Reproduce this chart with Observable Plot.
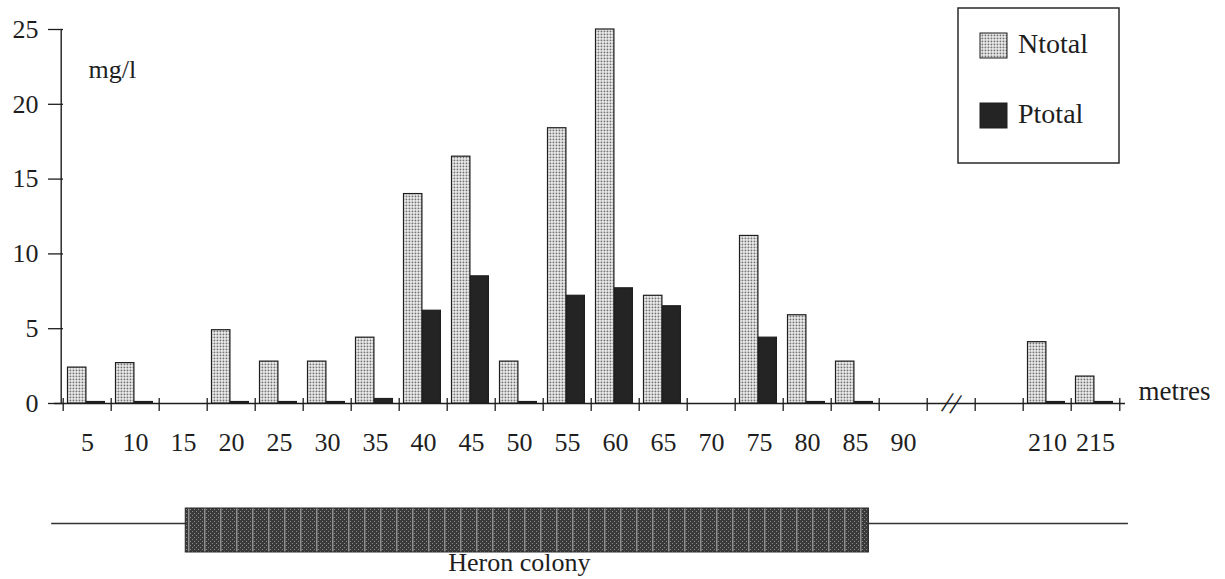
<!DOCTYPE html>
<html><head><meta charset="utf-8">
<script src="https://cdn.jsdelivr.net/npm/d3@7"></script>
<script src="https://cdn.jsdelivr.net/npm/@observablehq/plot@0.6"></script>
<style>
body{margin:0;background:#fff;font-family:"Liberation Serif",serif;}
#wrap{position:relative;width:1225px;height:579px;overflow:hidden;background:#fff;}
#wrap > svg{display:block;}
#legend{position:absolute;left:957px;top:7px;}
</style></head><body>
<div id="wrap">
<svg width="0" height="0" style="position:absolute">
  <defs>
    <pattern id="nDots" width="3" height="3" patternUnits="userSpaceOnUse">
      <rect width="3" height="3" fill="#ffffff"/>
      <rect x="0.5" y="0.5" width="1.9" height="1.9" fill="#727272"/>
    </pattern>
    <pattern id="heron" width="16" height="4" patternUnits="userSpaceOnUse">
      <rect width="16" height="4" fill="#3a3a3a"/>
      <rect x="0" y="0" width="1" height="1" fill="#8a8a8a"/>
      <rect x="2" y="2" width="1" height="1" fill="#8a8a8a"/>
      <rect x="4" y="0" width="1" height="1" fill="#8a8a8a"/>
      <rect x="6" y="2" width="1" height="1" fill="#8a8a8a"/>
      <rect x="8" y="0" width="1" height="1" fill="#8a8a8a"/>
      <rect x="10" y="2" width="1" height="1" fill="#8a8a8a"/>
      <rect x="12" y="0" width="1.5" height="4" fill="#8f8f8f"/>
      <rect x="14" y="2" width="1" height="1" fill="#8a8a8a"/>
    </pattern>
  </defs>
</svg>
</div>
<script>
// Sampling positions along the transect (metres); two blank slots stand for the axis break
const slots = ["5","10","15","20","25","30","35","40","45","50","55","60","65","70","75","80","85","90","break","gap","210","215"];
const slotLabels = ["5","10","15","20","25","30","35","40","45","50","55","60","65","70","75","80","85","90","","","210","215"];
// Concentrations, mg/l
const Ntotal = [2.4, 2.7, 0, 4.9, 2.8, 2.8, 4.4, 14.0, 16.5, 2.8, 18.4, 25.0, 7.2, 0, 11.2, 5.9, 2.8, 0, null, null, 4.1, 1.8];
const Ptotal = [0.1, 0.1, 0, 0.1, 0.1, 0.1, 0.3, 6.2, 8.5, 0.1, 7.2, 7.7, 6.5, 0, 4.4, 0.1, 0.1, 0, null, null, 0.1, 0.1];
const yTicks = [0, 5, 10, 15, 20, 25];
const seriesNames = ["Ntotal", "Ptotal"];
// Heron colony extent and transect extent, in metres-equivalent along the drawn axis (22 slots x 5 m)
const heronColony = [13.3, 83.6];
const transect = [-0.5, 110.3];
const heronLabel = "Heron colony";

const W = 1225, mL = 56, mR = 100, mT = 29, mB = 60, H = 463;
const bw = (W - mL - mR) / slots.length;
const ink = "#1e1e1e";
const font = "Liberation Serif";
const labelOf = new Map(slots.map((s, i) => [s, slotLabels[i]]));

const nData = slots.map((s, i) => ({slot: s, v: Ntotal[i]})).filter(d => d.v > 0);
const pData = slots.map((s, i) => ({slot: s, v: Ptotal[i]})).filter(d => d.v > 0);

const main = Plot.plot({
  width: W, height: H,
  marginLeft: mL, marginRight: mR, marginTop: mT, marginBottom: mB,
  style: {fontFamily: font, fontSize: "26px", color: ink, background: "transparent", overflow: "visible"},
  x: {type: "band", domain: slots, padding: 0, label: null},
  y: {domain: [0, 25], label: null},
  marks: [
    // x axis line
    Plot.ruleY([0], {stroke: ink, strokeWidth: 1.4, insetLeft: -2}),
    // y axis line
    Plot.ruleX([slots[0]], {y1: 0, y2: 25, dx: -bw / 2 - 2, stroke: ink, strokeWidth: 1.4}),
    // y ticks crossing the axis
    Plot.axisY(yTicks, {tickSize: 15, dx: 7, tickFormat: () => "", stroke: ink, strokeWidth: 1.3, label: null}),
    Plot.axisY(yTicks, {tickSize: 0, tickPadding: 18, fontSize: 26, fill: ink, label: null}),
    // x boundary ticks
    Plot.axisX(slots, {tickSize: 13, dy: -5, dx: -bw / 2, tickFormat: () => "", stroke: ink, strokeWidth: 1.3, label: null}),
    Plot.axisX([slots[slots.length - 1]], {tickSize: 13, dy: -5, dx: bw / 2, tickFormat: () => "", stroke: ink, strokeWidth: 1.3, label: null}),
    Plot.axisX(slots, {tickSize: 0, tickPadding: 29, tickFormat: d => labelOf.get(d), fontSize: 26, fill: ink, label: null}),
    // bars
    Plot.barY(nData, {x: "slot", y: "v", fill: "url(#nDots)", stroke: ink, strokeWidth: 1.2, insetLeft: 4.5, insetRight: bw - 23.5}),
    Plot.barY(pData, {x: "slot", y: "v", fill: "#242424", stroke: ink, strokeWidth: 1.2, insetLeft: 23.5, insetRight: bw - 42}),
    // axis break
    Plot.text(["break"], {x: d => d, y: 0, text: () => "//", fontSize: 30, rotate: 14, fill: ink}),
    // unit labels
    Plot.text(["mg/l"], {frameAnchor: "top-left", text: d => d, textAnchor: "start", dx: 32, dy: 30, fontSize: 26, fill: ink}),
    Plot.text(["metres"], {frameAnchor: "bottom-right", text: d => d, textAnchor: "start", dx: 13, dy: -4, fontSize: 27, fill: ink})
  ]
});

const heron = Plot.plot({
  width: W, height: 116,
  marginLeft: mL, marginRight: mR, marginTop: 45, marginBottom: 27,
  style: {fontFamily: font, color: ink, background: "transparent", overflow: "visible"},
  x: {domain: [0, 110], axis: null},
  y: {domain: [0, 1], axis: null},
  marks: [
    Plot.ruleY([0.5], {x1: transect[0], x2: transect[1], dy: -7, stroke: "#333", strokeWidth: 1.3}),
    Plot.rect([{a: heronColony[0], b: heronColony[1]}], {x1: "a", x2: "b", fill: "url(#heron)", stroke: "#2a2a2a", strokeWidth: 1}),
    Plot.text([{m: (heronColony[0] + heronColony[1]) / 2, t: heronLabel}], {x: "m", text: "t", frameAnchor: "bottom", lineAnchor: "top", dy: 0, dx: -8, fontSize: 26, fill: ink})
  ]
});

const wrap = document.getElementById("wrap");
wrap.appendChild(main);
wrap.appendChild(heron);

// Legend
const ns = "http://www.w3.org/2000/svg";
const leg = document.createElementNS(ns, "svg");
leg.setAttribute("id", "legend");
leg.setAttribute("width", 164);
leg.setAttribute("height", 158);
const legFills = ["url(#nDots)", "#242424"];
const legItems = seriesNames.map((name, i) => ({name, fill: legFills[i]}));
leg.innerHTML = `<rect x="1" y="1" width="161" height="155" fill="#fff" stroke="#2a2a2a" stroke-width="1.5"/>` +
  legItems.map((d, i) => `<rect x="23" y="${26 + i * 70}" width="27" height="25" fill="${d.fill}" stroke="${ink}" stroke-width="1"/>` +
    `<text x="61" y="${46 + i * 70}" font-family="${font}" font-size="28" fill="${ink}">${d.name}</text>`).join("");
wrap.appendChild(leg);
</script>
</body></html>
